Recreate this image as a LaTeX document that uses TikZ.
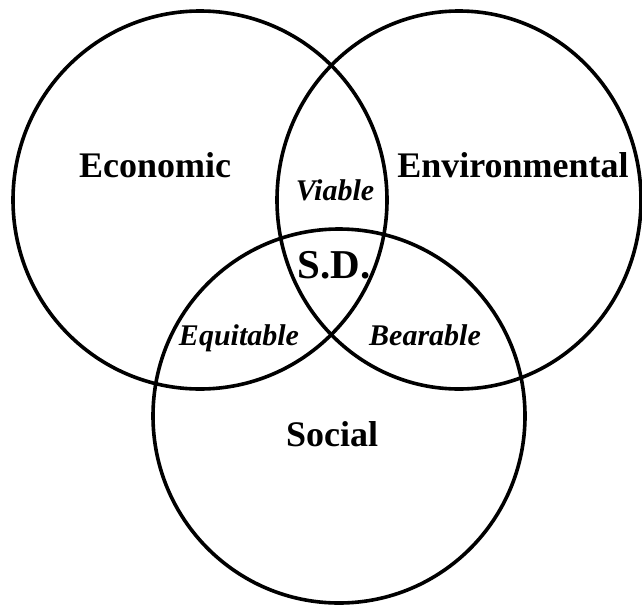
\documentclass[tikz,border=0pt]{standalone}
\usepackage{fontspec}
\setmainfont{Liberation Serif}
\tikzset{
  ring/.style={draw=black, line width=3.6pt},
  biglabel/.style={anchor=base, inner sep=0pt, font=\fontsize{36}{40}\selectfont\bfseries},
  midlabel/.style={anchor=base, inner sep=0pt, font=\fontsize{30}{34}\selectfont\bfseries\itshape},
  centerlabel/.style={anchor=base, inner sep=0pt, font=\fontsize{41}{46}\selectfont\bfseries}
}
\begin{document}
\begin{tikzpicture}[x=1pt,y=-1pt]
\useasboundingbox (0,0) rectangle (642,605);
\draw[ring] (200,200) ellipse [x radius=187, y radius=189];
\draw[ring] (459,200) ellipse [x radius=182, y radius=189];
\draw[ring] (339,416) ellipse [x radius=186, y radius=187];
\node[biglabel] (eco) at (155,177) {Economic};
\node[biglabel] (env) at (513,177) {Environmental};
\node[biglabel] (soc) at (332,446) {Social};
\node[midlabel] (via) at (335,200) {Viable};
\node[midlabel] (equ) at (239,345) {Equitable};
\node[midlabel] (bea) at (425,345) {Bearable};
\node[centerlabel] (sd) at (334,278) {S.D.};
\end{tikzpicture}
\end{document}
